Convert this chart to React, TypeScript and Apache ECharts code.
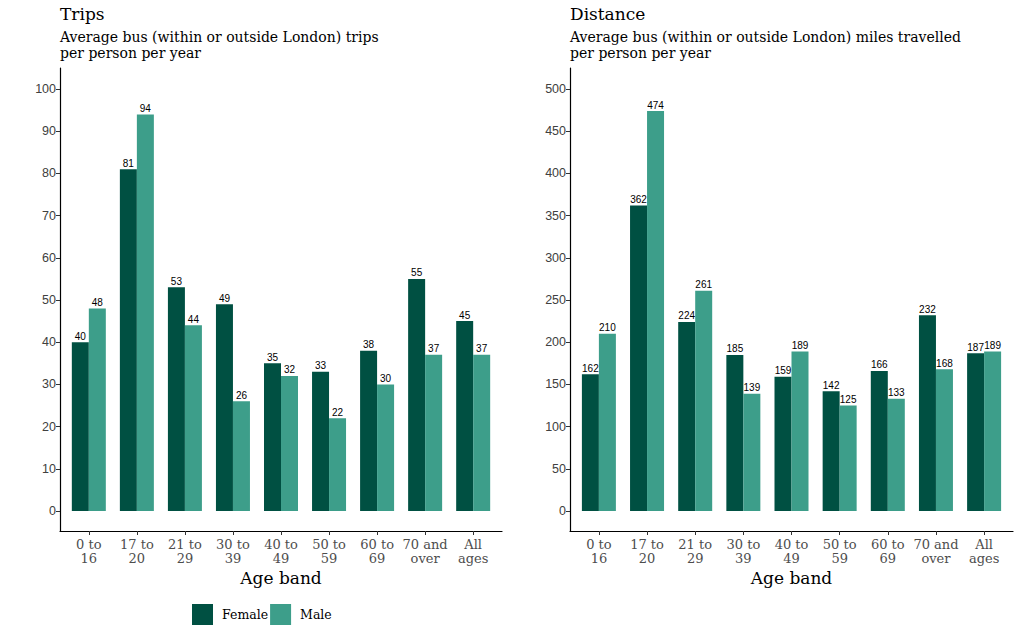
import React, { useEffect, useRef } from "react";
import * as echarts from "echarts";

const categories = ["0 to 16", "17 to 20", "21 to 29", "30 to 39", "40 to 49", "50 to 59", "60 to 69", "70 and over", "All ages"];
const tripsFemale = [40, 81, 53, 49, 35, 33, 38, 55, 45];
const tripsMale = [48, 94, 44, 26, 32, 22, 30, 37, 37];
const distFemale = [162, 362, 224, 185, 159, 142, 166, 232, 187];
const distMale = [210, 474, 261, 139, 189, 125, 133, 168, 189];
const tripsTicks = [0, 10, 20, 30, 40, 50, 60, 70, 80, 90, 100];
const distTicks = [0, 50, 100, 150, 200, 250, 300, 350, 400, 450, 500];

const FEMALE = "#005042";
const MALE = "#3d9e8a";
const SERIF = "DejaVu Serif";
const SANS = "Liberation Sans";

function wrap(s: string) {
  const i = s.lastIndexOf(" ");
  return i < 0 ? s : s.slice(0, i) + "\n" + s.slice(i + 1);
}

function xAxisFor(gridIndex: number) {
  const idx = categories.map((_, i) => i);
  return {
    type: "value",
    gridIndex,
    min: -0.6,
    max: 8.6,
    name: "Age band",
    nameLocation: "middle",
    nameGap: 33,
    nameTextStyle: { fontFamily: SERIF, fontSize: 17, color: "#000" },
    splitLine: { show: false },
    axisLine: { show: true, onZero: false, lineStyle: { color: "#000", width: 1.2 } },
    axisTick: { show: true, customValues: idx, length: 4, lineStyle: { color: "#333" } },
    axisLabel: {
      customValues: idx,
      formatter: (v: number) => wrap(categories[Math.round(v)] || ""),
      fontFamily: SERIF,
      fontSize: 13,
      lineHeight: 14,
      color: "#4d4d4d",
      margin: 6,
    },
  };
}

function yAxisFor(gridIndex: number, min: number, max: number, ticks: number[]) {
  return {
    type: "value",
    gridIndex,
    min,
    max,
    splitLine: { show: false },
    axisLine: { show: true, onZero: false, lineStyle: { color: "#000", width: 1.2 } },
    axisTick: { show: true, customValues: ticks, length: 4, lineStyle: { color: "#333" } },
    axisLabel: {
      customValues: ticks,
      fontFamily: SANS,
      fontSize: 12.5,
      color: "#404040",
      margin: 4,
    },
  };
}

function barSeries(name: string, color: string, values: number[], axisIndex: number) {
  return {
    type: "bar",
    name,
    xAxisIndex: axisIndex,
    yAxisIndex: axisIndex,
    barWidth: 17,
    barGap: "0%",
    itemStyle: { color },
    data: values.map((v, i) => [i, v]),
    label: {
      show: true,
      position: "top",
      distance: 1,
      fontFamily: SANS,
      fontSize: 10,
      color: "#000",
      formatter: (p: any) => String(p.value[1]),
    },
  };
}

export default function App() {
  const ref = useRef<HTMLDivElement>(null);
  useEffect(() => {
    if (!ref.current) return;
    const chart = echarts.init(ref.current, null, { renderer: "svg" });
    const titleStyle = { fontFamily: SERIF, fontSize: 17, fontWeight: "normal", color: "#000" };
    const subStyle = { fontFamily: SERIF, fontSize: 14, color: "#000", lineHeight: 16 };
    chart.setOption({
      animation: false,
      backgroundColor: "#fff",
      title: [
        {
          left: 60,
          top: 5,
          padding: 0,
          text: "Trips",
          subtext: "Average bus (within or outside London) trips\nper person per year",
          itemGap: 7,
          textStyle: titleStyle,
          subtextStyle: subStyle,
        },
        {
          left: 570,
          top: 5,
          padding: 0,
          text: "Distance",
          subtext: "Average bus (within or outside London) miles travelled\nper person per year",
          itemGap: 7,
          textStyle: titleStyle,
          subtextStyle: subStyle,
        },
      ],
      legend: {
        data: ["Female", "Male"],
        left: 192,
        top: 604,
        padding: 0,
        icon: "rect",
        itemWidth: 21,
        itemHeight: 21,
        itemGap: 2,
        textStyle: { fontFamily: SERIF, fontSize: 12.5, color: "#000", padding: [0, 0, 0, 4] },
      },
      grid: [
        { left: 60, right: 518, top: 68, bottom: 108, containLabel: false },
        { left: 570, right: 7, top: 68, bottom: 108, containLabel: false },
      ],
      xAxis: [xAxisFor(0), xAxisFor(1)],
      yAxis: [yAxisFor(0, -4.75, 105, tripsTicks), yAxisFor(1, -23.7, 525, distTicks)],
      series: [
        barSeries("Female", FEMALE, tripsFemale, 0),
        barSeries("Male", MALE, tripsMale, 0),
        barSeries("Female", FEMALE, distFemale, 1),
        barSeries("Male", MALE, distMale, 1),
      ],
    });
    return () => chart.dispose();
  }, []);
  return <div ref={ref} style={{ position: "fixed", left: 0, top: 0, width: 1020, height: 639 }} />;
}
